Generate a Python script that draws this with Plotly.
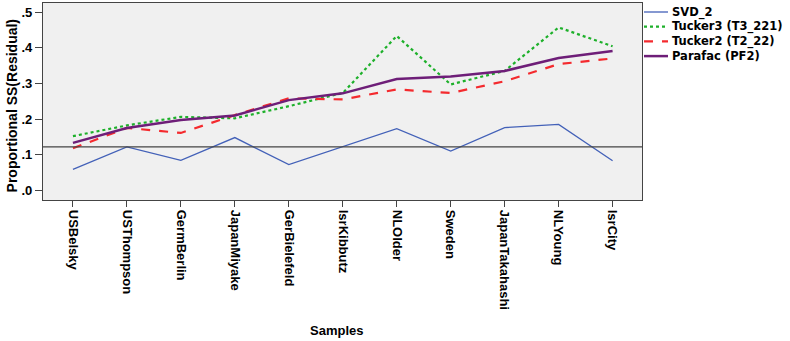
import plotly.graph_objects as go

samples = ["USBelsky", "USThompson", "GermBerlin", "JapanMiyake", "GerBielefeld",
           "IsrKibbutz", "NLOlder", "Sweden", "JapanTakahashi", "NLYoung", "IsrCity"]
series_names = ["SVD_2", "Tucker3 (T3_221)", "Tucker2 (T2_22)", "Parafac (PF2)"]
svd_2 = [0.059, 0.122, 0.084, 0.148, 0.072, 0.122, 0.173, 0.110, 0.176, 0.185, 0.083]
tucker3 = [0.152, 0.182, 0.206, 0.202, 0.236, 0.273, 0.433, 0.297, 0.335, 0.457, 0.404]
tucker2 = [0.118, 0.175, 0.161, 0.211, 0.258, 0.255, 0.283, 0.273, 0.306, 0.354, 0.370]
parafac = [0.133, 0.175, 0.197, 0.210, 0.253, 0.272, 0.312, 0.319, 0.335, 0.371, 0.391]
ref_value = 0.122
y_ticks = [0.0, 0.1, 0.2, 0.3, 0.4, 0.5]
y_ticktext = [".0", ".1", ".2", ".3", ".4", ".5"]

x = list(range(len(samples)))

W, H = 790, 341
ML, MR, MT, MB = 43, 148, 3, 141
plot_w = W - ML - MR
plot_h = H - MT - MB

styles = [
    dict(color="#4361B8", width=1.3, dash="solid"),
    dict(color="#1DB02A", width=2.2, dash="dot"),
    dict(color="#F42A2E", width=2.2, dash="dash"),
    dict(color="#6E1E78", width=2.5, dash="solid"),
]

fig = go.Figure()
for name, vals, st in zip(series_names, [svd_2, tucker3, tucker2, parafac], styles):
    fig.add_trace(go.Scatter(x=x, y=vals, mode="lines", name=name, line=st, showlegend=False))

# reference line
fig.add_shape(type="line", xref="paper", x0=0, x1=1, yref="y", y0=ref_value, y1=ref_value,
              line=dict(color="#444444", width=1.3))

tick_font = dict(family="Liberation Sans, Arial", size=13, color="black", weight="bold")
title_font = dict(family="Liberation Sans, Arial", size=14, color="black", weight="bold")
legend_font = dict(family="DejaVu Sans, Verdana", size=11.5, color="black", weight="bold")

annotations = [
    dict(text="Samples", xref="paper", yref="paper", x=0.49, y=0.0, yshift=-130,
         xanchor="center", yanchor="middle", showarrow=False,
         font=dict(family="Liberation Sans, Arial", size=13, color="black", weight="bold")),
    dict(text="Proportional SS(Residual)", xref="paper", yref="paper", x=0, xshift=-31,
         y=0.475, xanchor="center", yanchor="middle", textangle=-90, showarrow=False,
         font=title_font),
]

# legend (drawn manually to match the compact row spacing)
def px_x(p):
    return (p - ML) / plot_w

def px_y(p):
    return (MT + plot_h - p) / plot_h

row_start, row_gap = 12.0, 14.7
for i, (name, st) in enumerate(zip(series_names, styles)):
    yy = px_y(row_start + i * row_gap)
    fig.add_shape(type="line", xref="paper", yref="paper", x0=px_x(644), x1=px_x(668),
                  y0=yy, y1=yy, line=st)
    annotations.append(dict(text=name, xref="paper", yref="paper", x=px_x(670), y=yy,
                            xanchor="left", yanchor="middle", showarrow=False,
                            font=legend_font))

fig.update_layout(
    width=W, height=H,
    margin=dict(l=ML, r=MR, t=MT, b=MB, autoexpand=False),
    paper_bgcolor="white",
    plot_bgcolor="#F0F0F0",
    showlegend=False,
    xaxis=dict(range=[-0.555, 10.545], tickmode="array", tickvals=x, ticktext=samples,
               tickangle=90, showgrid=False, zeroline=False, showline=True, mirror=True,
               linecolor="#444444", linewidth=1.3, ticks="outside", ticklen=6,
               tickcolor="#444444", tickfont=tick_font, automargin=False),
    yaxis=dict(range=[-0.0272, 0.5255], tickmode="array", tickvals=y_ticks, ticktext=y_ticktext,
               showgrid=False, zeroline=False, showline=True, mirror=True,
               linecolor="#444444", linewidth=1.3, ticks="outside", ticklen=7,
               tickcolor="#444444", tickfont=tick_font, automargin=False),
    annotations=annotations,
)

fig.write_html("out.html", config={"displayModeBar": False},
               post_script="document.body.style.margin='0';")
